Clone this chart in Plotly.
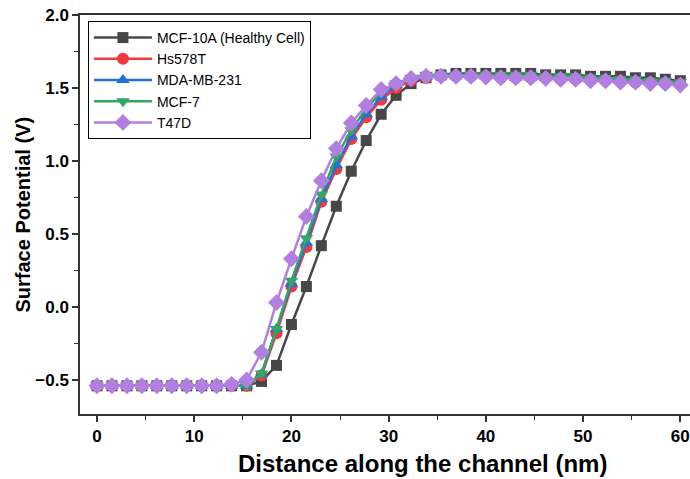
import numpy as np
import plotly.graph_objects as go

x = [round(i * 60 / 39, 3) for i in range(40)]

low = [-0.54] * 10

mcf10a = low + [-0.54, -0.51, -0.40, -0.12, 0.14, 0.42, 0.69, 0.93, 1.14, 1.32, 1.45, 1.53, 1.57,
                1.59, 1.60, 1.60, 1.60, 1.60, 1.60, 1.60, 1.59, 1.59, 1.59, 1.58, 1.58, 1.58, 1.57, 1.57, 1.56, 1.55]
hs578t = low + [-0.54, -0.47, -0.18, 0.14, 0.41, 0.72, 0.945, 1.15, 1.30, 1.42, 1.50, 1.55, 1.57,
                1.58, 1.58, 1.58, 1.58, 1.57, 1.57, 1.57, 1.57, 1.56, 1.56, 1.56, 1.55, 1.55, 1.54, 1.54, 1.53, 1.53]
mdamb231 = low + [-0.54, -0.46, -0.15, 0.16, 0.44, 0.74, 0.97, 1.17, 1.32, 1.44, 1.52, 1.56, 1.575,
                  1.58, 1.58, 1.58, 1.58, 1.575, 1.57, 1.57, 1.57, 1.565, 1.56, 1.56, 1.555, 1.55, 1.545, 1.54, 1.535, 1.53]
mcf7 = low + [-0.54, -0.455, -0.15, 0.18, 0.47, 0.77, 1.03, 1.21, 1.36, 1.47, 1.53, 1.57, 1.59,
              1.59, 1.59, 1.59, 1.59, 1.59, 1.59, 1.59, 1.58, 1.58, 1.58, 1.57, 1.57, 1.56, 1.56, 1.55, 1.55, 1.54]
t47d = low[:9] + [-0.53, -0.50, -0.31, 0.03, 0.33, 0.62, 0.865, 1.085, 1.26, 1.38, 1.49, 1.53, 1.565, 1.58,
                  1.58, 1.58, 1.58, 1.575, 1.57, 1.57, 1.57, 1.565, 1.56, 1.56, 1.55, 1.55, 1.54, 1.54, 1.53, 1.53, 1.52]

names = ["MCF-10A (Healthy Cell)", "Hs578T", "MDA-MB-231", "MCF-7", "T47D"]
series = [mcf10a, hs578t, mdamb231, mcf7, t47d]
colors = ["#474747", "#f0393c", "#2270dc", "#33a565", "#b27fe0"]
symbols = ["square", "circle", "triangle-up", "triangle-down", "diamond"]
sizes = [11, 12, 12, 12, 13]

x_title = "Distance along the channel (nm)"
y_title = "Surface Potential (V)"

fig = go.Figure()
for n, s, c, sym, sz in zip(names, series, colors, symbols, sizes):
    fig.add_trace(go.Scatter(
        x=x, y=s, name=n, mode="lines+markers",
        line=dict(color=c, width=2.5),
        marker=dict(symbol=sym, size=sz, color=c),
    ))

FONT = "Arial, Liberation Sans"
fig.update_layout(
    width=690, height=479,
    margin=dict(l=80, r=0, t=15, b=65),
    plot_bgcolor="white", paper_bgcolor="white",
    font=dict(family=FONT, color="black"),
    legend=dict(
        x=0.013, y=0.985, xanchor="left", yanchor="top",
        bgcolor="white", bordercolor="black", borderwidth=1,
        font=dict(family=FONT, size=14, color="black"),
        tracegroupgap=0, itemwidth=58,
    ),
    xaxis=dict(
        range=[-1.75, 61.0], tickvals=[0, 10, 20, 30, 40, 50, 60],
        showline=True, linecolor="#333", linewidth=1.5, mirror=True,
        ticks="outside", ticklen=6, tickwidth=1.5, tickcolor="#333",
        minor=dict(tickvals=[5, 15, 25, 35, 45, 55], ticks="outside", ticklen=4, tickcolor="#333", tickwidth=1),
        showgrid=False, zeroline=False,
        tickfont=dict(family=FONT, size=17, color="black", weight="bold"),
    ),
    yaxis=dict(
        range=[-0.733, 2.0], tickvals=[-0.5, 0.0, 0.5, 1.0, 1.5, 2.0], ticktext=["−0.5", "0.0", "0.5", "1.0", "1.5", "2.0"],
        showline=True, linecolor="#333", linewidth=1.5, mirror=False,
        ticks="outside", ticklen=6, tickwidth=1.5, tickcolor="#333",
        minor=dict(tickvals=[-0.25, 0.25, 0.75, 1.25, 1.75], ticks="outside", ticklen=4, tickcolor="#333", tickwidth=1),
        showgrid=False, zeroline=False,
        tickfont=dict(family=FONT, size=17, color="black", weight="bold"),
    ),
    annotations=[
        dict(text="<b>" + x_title + "</b>", xref="paper", yref="paper", x=0.562, y=-0.124,
             xanchor="center", yanchor="middle", showarrow=False, font=dict(size=24, family=FONT)),
        dict(text="<b>" + y_title + "</b>", xref="paper", yref="paper", x=(22 - 80) / 610, y=0.5,
             xanchor="center", yanchor="middle", textangle=-90, showarrow=False, font=dict(size=20, family=FONT)),
    ],
)

fig.write_html("out.html")
